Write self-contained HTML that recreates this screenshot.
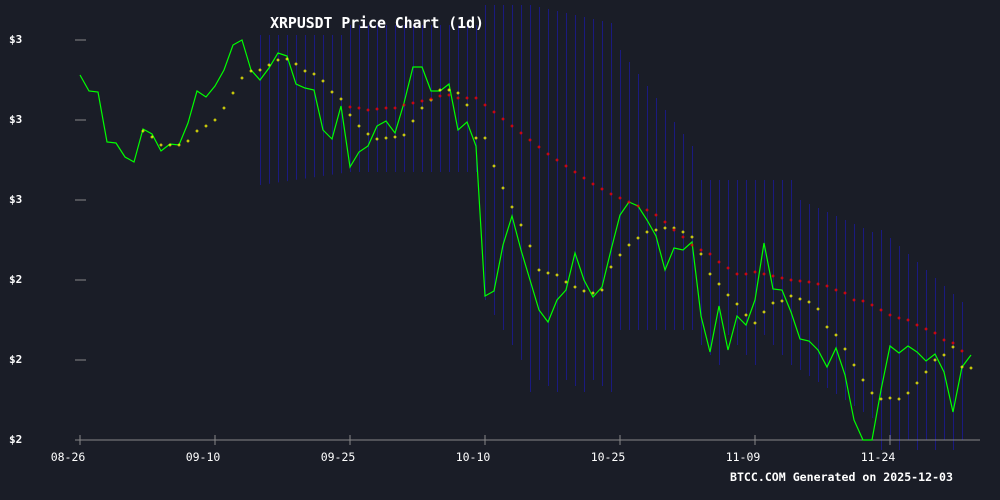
<!DOCTYPE html>
<html><head><meta charset="utf-8"><style>
html,body{margin:0;padding:0;background:#1a1d27;}
svg{display:block}
text{font-family:"DejaVu Sans Mono","Liberation Mono",monospace;fill:#fff}
</style></head><body>
<svg id="s" width="1000" height="500" xmlns="http://www.w3.org/2000/svg">
<rect width="1000" height="500" fill="#1a1d27"/>
<g id="bars"></g>
<line x1="75" y1="440" x2="980" y2="440" stroke="#888" stroke-width="1"/>
<g stroke="#888">
<line x1="75" y1="40" x2="86" y2="40"/><line x1="75" y1="120" x2="86" y2="120"/><line x1="75" y1="200" x2="86" y2="200"/><line x1="75" y1="280" x2="86" y2="280"/><line x1="75" y1="360" x2="86" y2="360"/>
<line x1="80" y1="435" x2="80" y2="445"/><line x1="215" y1="435" x2="215" y2="445"/><line x1="350" y1="435" x2="350" y2="445"/><line x1="485" y1="435" x2="485" y2="445"/><line x1="620" y1="435" x2="620" y2="445"/><line x1="755" y1="435" x2="755" y2="445"/><line x1="890" y1="435" x2="890" y2="445"/>
</g>
<g font-size="11" font-weight="bold">
<text x="9" y="43">$3</text><text x="9" y="123">$3</text><text x="9" y="203">$3</text><text x="9" y="283">$2</text><text x="9" y="363">$2</text><text x="9" y="443">$2</text>
</g>
<g font-size="11.5" text-anchor="middle">
<text x="68" y="461">08-26</text><text x="203" y="461">09-10</text><text x="338" y="461">09-25</text><text x="473" y="461">10-10</text><text x="608" y="461">10-25</text><text x="743" y="461">11-09</text><text x="878" y="461">11-24</text>
</g>
<text x="377" y="28" font-size="14.8" font-weight="bold" text-anchor="middle">XRPUSDT Price Chart (1d)</text>
<text x="730" y="481" font-size="11.5" font-weight="bold" textLength="223" lengthAdjust="spacingAndGlyphs">BTCC.COM Generated on 2025-12-03</text>
<polyline id="g" fill="none" stroke="#00ff00" stroke-width="1.2"/>
<g id="y" fill="#ffff00"></g>
<g id="r" fill="#ff0000"></g>
</svg>
<script>
var G=[75,91,92,142,143,157,162,129,134,151,144,145,123,91,97,86,70,45,40,70,80,68,53,56,84,88,90,130,139,106,167,152,146,126,121,133,103,67,67,91,91,84,130,122,146,296,291,245,216,250,280,310,322,300,290,253,280,297,287,250,215,202,206,220,236,270,248,250,242,316,352,306,350,316,325,300,243,289,290,312,339,341,350,367,348,375,420,440,440,390,346,353,346,352,361,354,372,412,367,355];
var pts=G.map(function(v,i){return (80+9*i)+","+v}).join(" ");
document.getElementById("g").setAttribute("points",pts);
var Y={7:131,8:137,9:145,10:145,11:145,12:141,13:131,14:126,15:120,16:108,17:93,18:78,19:71,20:70,21:65,22:60,23:59,24:64,25:71,26:74,27:81,28:92,29:99,30:115,31:126,32:134,33:139,34:138,35:137,36:135,37:121,38:108,39:100,40:90,41:90,42:93,43:105,44:138,45:138,46:166,47:188,48:207,49:225,50:246,51:270,52:273,53:275,54:282,55:287,56:291,57:293,58:290,59:267,60:255,61:245,62:238,63:232,64:230,65:228,66:228,67:232,68:237,69:254,70:274,71:284,72:295,73:304,74:315,75:323,76:312,77:303,78:301,79:296,80:299,81:302,82:309,83:327,84:335,85:349,86:365,87:380,88:393,89:399,90:398,91:399,92:393,93:383,94:372,95:360,96:355,97:347,98:367,99:368};
var R={30:107,31:108,32:110,33:109,34:108,35:108,36:105,37:103,38:101,39:99,40:96,41:95,42:98,43:98,44:98,45:105,46:112,47:119,48:126,49:133,50:140,51:147,52:154,53:160,54:166,55:172,56:178,57:184,58:189,59:194,60:198,61:202,62:206,63:210,64:215,65:222,66:230,67:237,68:245,69:250,70:254,71:262,72:268,73:274,74:274,75:272,76:274,77:276,78:278,79:280,80:281,81:282,82:284,83:286,84:290,85:293,86:300,87:301,88:305,89:310,90:315,91:318,92:320,93:325,94:329,95:333,96:340,97:343,98:351};
function plus(gid,o){var g=document.getElementById(gid),h="";for(var k in o){var x=80+9*k,y=o[k];h+='<rect x="'+(x-1.5)+'" y="'+(y-0.5)+'" width="3" height="1"/><rect x="'+(x-0.5)+'" y="'+(y-1.5)+'" width="1" height="3"/>';}g.innerHTML=h;}
plus("y",Y);plus("r",R);
var bh="";
for(var i=20;i<=98;i++){var x=80+9*i+0.5,t,b;
if(i<30){t=35;b=185-(i-20)*1.3;}
else if(i<45){t=25;b=172;}
else if(i<50){t=5;b=300+(i-45)*15;}
else if(i<60){t=5+(i-50)*2;b=380+(i%3)*6;}
else if(i<69){t=50+(i-60)*12;b=330;}
else if(i<80){t=180;b=335+(i%4)*10;}
else if(i<89){t=200+(i-80)*4;b=370+(i-80)*6;}
else {t=230+(i-89)*8;b=440+(i%2)*10;}
bh+='<line x1="'+x+'" y1="'+t+'" x2="'+x+'" y2="'+b+'" stroke="#1a1a80" stroke-width="1"/>';}
document.getElementById("bars").innerHTML=bh;
</script>
</body></html>
